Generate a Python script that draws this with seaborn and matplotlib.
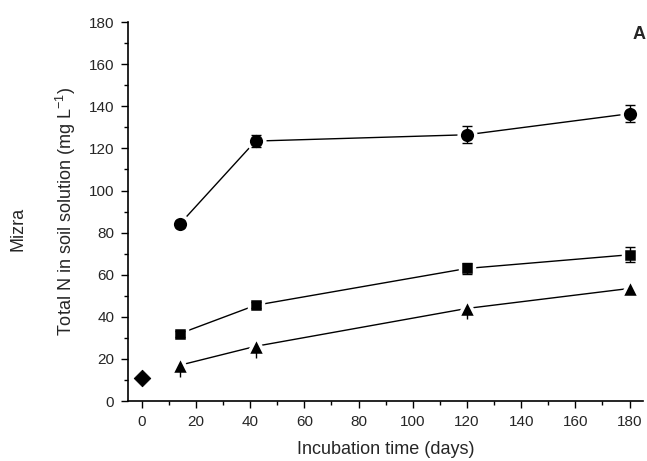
import matplotlib
matplotlib.use("Agg")
import matplotlib.pyplot as plt
import seaborn as sns
import pandas as pd
from matplotlib.ticker import MultipleLocator

sns.set_style("ticks")
plt.rcParams['font.family'] = ['Liberation Sans', 'DejaVu Sans']

days = [14, 42, 120, 180]
circle_vals = [84, 123.5, 126.5, 136.5]
circle_err = [1.5, 3, 4, 4]
square_vals = [32, 45.5, 63, 69.5]
square_err = [1.5, 1.5, 2.5, 3.5]
triangle_vals = [17, 26, 44, 53.5]
triangle_err_low = [5.5, 5.5, 5, 0]
triangle_err_high = [0, 0, 0, 0]
diamond_day = [0]
diamond_vals = [11]

series = [
    ("circle", circle_vals, [circle_err, circle_err], "o", 12, 3.5),
    ("square", square_vals, [square_err, square_err], "s", 10.5, 3.5),
    ("triangle", triangle_vals, [triangle_err_low, triangle_err_high], "^", 13, 0),
]

fig = plt.figure(figsize=(6.47, 4.61), dpi=100)
ax = fig.add_axes([0.198, 0.130, 0.796, 0.822])

for name, vals, errs, mk, ms, cap in series:
    df = pd.DataFrame({"day": days, "value": vals})
    sns.lineplot(data=df, x="day", y="value", ax=ax, color="black",
                 linewidth=1, marker=mk, markersize=ms,
                 markerfacecolor="black", markeredgecolor="white",
                 markeredgewidth=2.5, zorder=3)
    ax.errorbar(days, vals, yerr=errs, fmt="none", ecolor="black",
                elinewidth=1, capsize=cap, capthick=1, zorder=4)

ddf = pd.DataFrame({"day": diamond_day, "value": diamond_vals})
sns.scatterplot(data=ddf, x="day", y="value", ax=ax, marker="D",
                s=70, color="black", edgecolor="black", zorder=3)

ax.set_xlim(-5, 185)
ax.set_ylim(0, 180)
ax.xaxis.set_major_locator(MultipleLocator(20))
ax.xaxis.set_minor_locator(MultipleLocator(10))
ax.yaxis.set_major_locator(MultipleLocator(20))
ax.yaxis.set_minor_locator(MultipleLocator(10))
ax.tick_params(which="major", length=5, width=1, labelsize=11, color="black", pad=5)
ax.tick_params(which="minor", length=3, width=1, color="black")
for s in ["left", "bottom"]:
    ax.spines[s].set_linewidth(1.2)
    ax.spines[s].set_color("black")
sns.despine(ax=ax)

ax.set_xlabel("Incubation time (days)", fontsize=13, labelpad=9)
ax.set_ylabel("Total N in soil solution (mg L$^{\\mathregular{-1}}$)", fontsize=13, labelpad=8)

fig.text(0.978, 0.925, "A", fontsize=13, fontweight="bold", ha="left", va="center")
fig.text(0.028, 0.503, "Mizra", fontsize=13, rotation=90, ha="center", va="center")

fig.savefig("out.png", dpi=100)
